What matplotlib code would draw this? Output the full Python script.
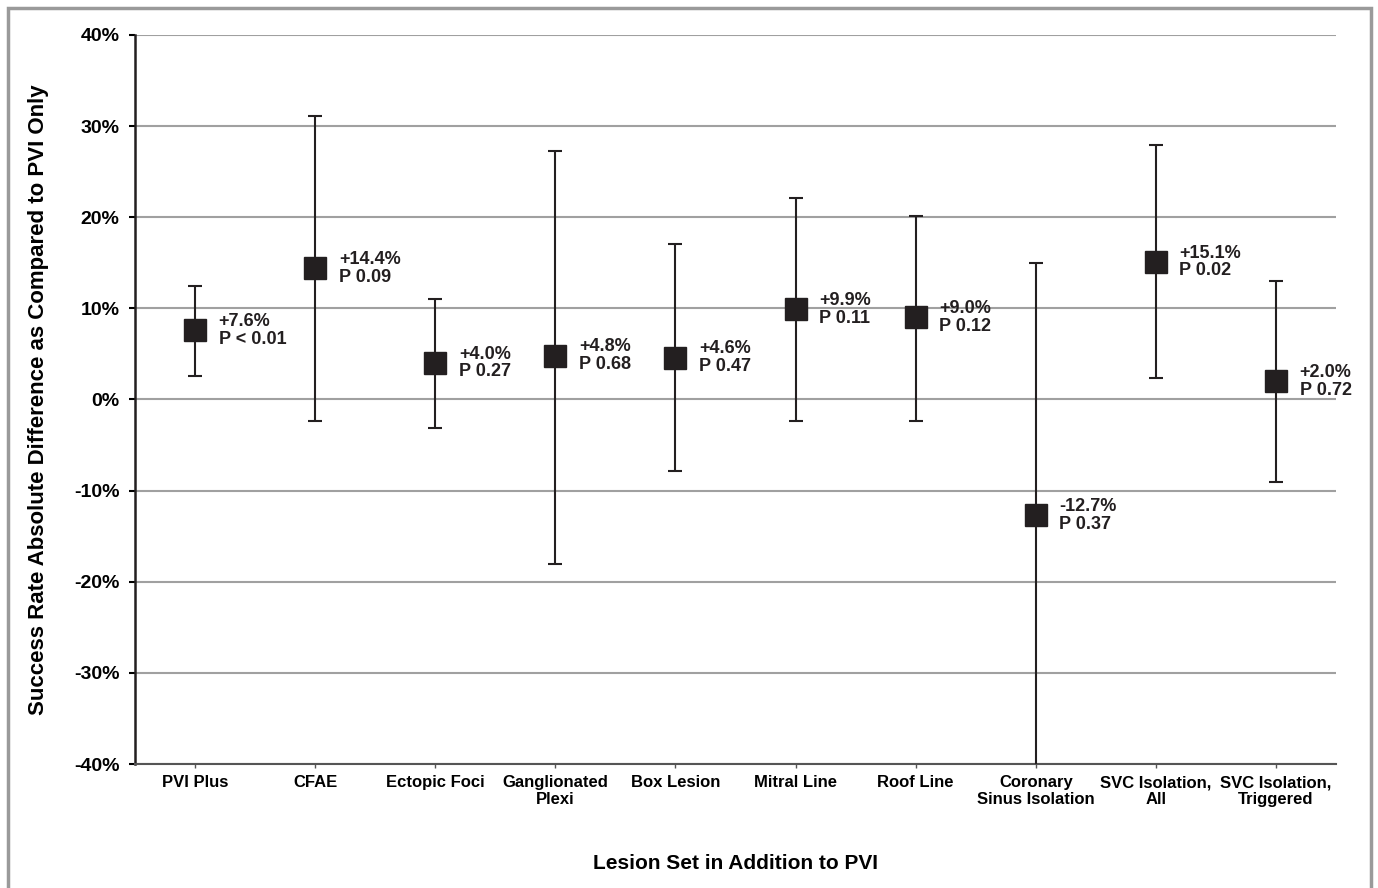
import matplotlib.pyplot as plt
from matplotlib.patches import Rectangle

plt.rcParams['font.family'] = ['Liberation Sans', 'DejaVu Sans']
plt.rcParams['font.weight'] = 'bold'

categories = ['PVI Plus', 'CFAE', 'Ectopic Foci', 'Ganglionated\nPlexi', 'Box Lesion',
              'Mitral Line', 'Roof Line', 'Coronary\nSinus Isolation',
              'SVC Isolation,\nAll', 'SVC Isolation,\nTriggered']
diff = [7.6, 14.4, 4.0, 4.8, 4.6, 9.9, 9.0, -12.7, 15.1, 2.0]
ci_low = [2.6, -2.4, -3.1, -18.0, -7.8, -2.4, -2.4, -42.0, 2.4, -9.0]
ci_high = [12.5, 31.1, 11.0, 27.3, 17.1, 22.1, 20.1, 15.0, 27.9, 13.0]
labels = ['+7.6%\nP < 0.01', '+14.4%\nP 0.09', '+4.0%\nP 0.27', '+4.8%\nP 0.68',
          '+4.6%\nP 0.47', '+9.9%\nP 0.11', '+9.0%\nP 0.12', '-12.7%\nP 0.37',
          '+15.1%\nP 0.02', '+2.0%\nP 0.72']
yticks = [-40, -30, -20, -10, 0, 10, 20, 30, 40]

fig = plt.figure(figsize=(13.78, 8.88), dpi=100)
# grey frame round the figure
fig.patches.append(Rectangle((8 / 1378, -0.05), 1363 / 1378, 1.05 - 8 / 888,
                             transform=fig.transFigure, fill=False,
                             edgecolor='#9a9a9a', linewidth=2.5))
ax = fig.add_axes([135 / 1378, 1 - 764 / 888, 1201 / 1378, 729 / 888])

x = list(range(len(categories)))
yerr = [[d - lo for d, lo in zip(diff, ci_low)], [hi - d for d, hi in zip(diff, ci_high)]]
ax.errorbar(x, diff, yerr=yerr, fmt='s', color='#231f20', ecolor='#231f20',
            markersize=15.5, elinewidth=1.5, capsize=5, capthick=1.5, zorder=3)

for xi, d, lab in zip(x, diff, labels):
    ax.annotate(lab, (xi, d), xytext=(17, 0), textcoords='offset points',
                va='center', ha='left', fontsize=13, fontweight='bold',
                color='#231f20', linespacing=1.05)

ax.set_xlim(-0.5, 9.5)
ax.set_ylim(-40, 40)
ax.set_yticks(yticks)
ax.set_yticklabels([f'{t}%' for t in yticks], fontsize=14, fontweight='bold')
ax.set_xticks(x)
ax.set_xticklabels(categories, fontsize=12, fontweight='bold', linespacing=1.12)
ax.tick_params(axis='x', length=3, width=1, color='#555555', pad=5)
ax.tick_params(axis='y', length=4, width=1.5, direction='out', pad=7)
ax.yaxis.grid(True, color='#a0a0a0', linewidth=1.5)
ax.set_axisbelow(True)
for s in ['top', 'right']:
    ax.spines[s].set_visible(False)
ax.spines['left'].set_linewidth(1.8)
ax.spines['left'].set_color('#231f20')
ax.spines['bottom'].set_linewidth(1.5)
ax.spines['bottom'].set_color('#555555')

ax.set_ylabel('Success Rate Absolute Difference as Compared to PVI Only',
              fontsize=16, fontweight='bold', labelpad=18)
ax.set_xlabel('Lesion Set in Addition to PVI', fontsize=15, fontweight='bold', labelpad=34)

fig.savefig('out.png', dpi=100)
